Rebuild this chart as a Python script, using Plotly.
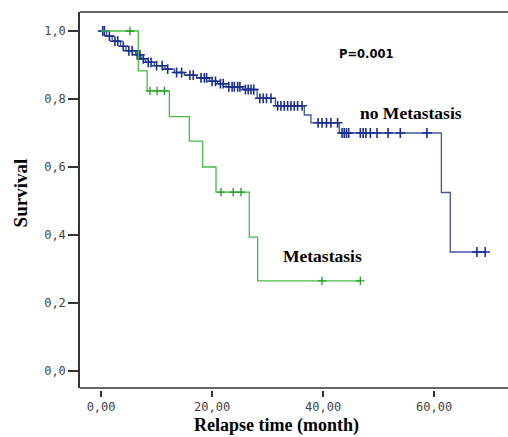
import numpy as np
import plotly.graph_objects as go

# ---------------- data ----------------
# no Metastasis: step times and survival after each step
nomet_t = [0, 1.0, 2.0, 3.5, 4.5, 6.2, 7.2, 8.0, 9.6, 11.5, 13.2, 15.0, 17.2, 19.5,
           21.0, 22.5, 25.5, 28.1, 31.4, 36.6, 37.8, 42.9, 61.3, 62.9, 69.2]
nomet_s = [1.0, 0.985, 0.970, 0.955, 0.942, 0.930, 0.918, 0.908, 0.898, 0.888, 0.878,
           0.870, 0.862, 0.852, 0.845, 0.836, 0.828, 0.802, 0.780, 0.753, 0.730, 0.700,
           0.525, 0.350, 0.350]
nomet_cens = [0.3, 0.6, 1.5, 2.5, 3.0, 4.0, 5.0, 5.6, 6.5, 7.0, 7.6, 8.5, 9.0, 10.0, 11.0,
              12.0, 13.6, 14.5, 16.0, 16.6, 18.0, 18.6, 19.0, 20.0, 20.6, 21.5, 22.0,
              23.0, 23.6, 24.0, 24.6, 25.0, 26.0, 26.5, 27.0, 27.5, 28.6, 29.2, 29.8,
              30.6, 31.8, 32.4, 33.0, 33.6, 34.2, 34.8, 35.4, 36.2, 39.1, 39.8, 40.6,
              41.4, 42.6, 43.4, 43.8, 44.2, 44.6, 46.7, 47.2, 47.7, 48.5, 49.7, 51.7,
              53.9, 58.7, 67.7, 69.2]

# Metastasis
met_t = [0, 6.7, 8.3, 12.3, 15.9, 18.3, 20.7, 26.7, 28.2, 46.7]
met_s = [1.0, 0.883, 0.824, 0.748, 0.676, 0.600, 0.526, 0.394, 0.265, 0.265]
met_cens = [5.2, 8.8, 10.1, 11.4, 21.6, 23.8, 25.2, 39.8, 46.7]

x_ticks = [0, 20, 40, 60]
x_tick_labels = ["0,00", "20,00", "40,00", "60,00"]
y_ticks = [0, 0.2, 0.4, 0.6, 0.8, 1.0]
y_tick_labels = ["0,0", "0,2", "0,4", "0,6", "0,8", "1,0"]


def surv_at(times, levels, q):
    t = np.asarray(times)
    s = np.asarray(levels)
    idx = np.searchsorted(t, np.asarray(q), side="right") - 1
    return s[idx]


BLUE_LINE = "#3d55a0"
BLUE_MARK = "#1b2f8f"
GREEN_LINE = "#46bb46"
GREEN_MARK = "#27a027"

fig = go.Figure()
fig.add_trace(go.Scatter(x=nomet_t, y=nomet_s, mode="lines", line_shape="hv",
                         line=dict(color=BLUE_LINE, width=1.3), showlegend=False,
                         hoverinfo="skip"))
fig.add_trace(go.Scatter(x=nomet_cens, y=surv_at(nomet_t, nomet_s, nomet_cens),
                         mode="markers",
                         marker=dict(symbol="cross-thin", size=7,
                                     line=dict(color=BLUE_MARK, width=1.6)),
                         showlegend=False))
fig.add_trace(go.Scatter(x=met_t, y=met_s, mode="lines", line_shape="hv",
                         line=dict(color=GREEN_LINE, width=1.3), showlegend=False,
                         hoverinfo="skip"))
fig.add_trace(go.Scatter(x=met_cens, y=surv_at(met_t, met_s, met_cens),
                         mode="markers",
                         marker=dict(symbol="cross-thin", size=6,
                                     line=dict(color=GREEN_MARK, width=1.4)),
                         showlegend=False))

tick_font = dict(family="DejaVu Sans Mono", size=12, color="#444444")
serif_bold = "Liberation Serif"

fig.update_layout(
    width=508, height=437,
    margin=dict(l=80, r=0, t=12, b=47, autoexpand=False),
    paper_bgcolor="white", plot_bgcolor="white",
    xaxis=dict(range=[-3.8, 73.3], tickvals=x_ticks, ticktext=x_tick_labels,
               showgrid=False, zeroline=False, showline=False,
               ticks="outside", ticklen=6, tickwidth=1.5, tickcolor="#333333",
               tickfont=tick_font, anchor="free", position=0, automargin=False),
    yaxis=dict(range=[-0.05, 1.0559], domain=[0.0053, 1], tickvals=y_ticks,
               ticktext=y_tick_labels, showgrid=False, zeroline=False,
               showline=True, linecolor="#333333", linewidth=1.5,
               ticks="outside", ticklen=10, tickwidth=1.5, tickcolor="#333333",
               tickfont=tick_font, automargin=False),
    shapes=[
        dict(type="line", xref="x domain", yref="y domain", x0=0, x1=1, y0=0, y1=0,
             line=dict(color="#333333", width=1.5)),
        dict(type="line", xref="x domain", yref="y domain", x0=0, x1=1, y0=1, y1=1,
             line=dict(color="#333333", width=1.5)),
    ],
    annotations=[
        dict(text="<b>Survival</b>", xref="paper", yref="paper", x=-60 / 428,
             y=0.52, textangle=-90, showarrow=False,
             font=dict(family=serif_bold, size=19, color="black"),
             xanchor="center", yanchor="middle"),
        dict(text="<b>Relapse time (month)</b>", xref="paper", yref="paper",
             x=(276 - 80) / 428, y=-(425 - 390) / 378, showarrow=False,
             font=dict(family=serif_bold, size=18, color="black"),
             xanchor="center", yanchor="middle"),
        dict(text="<b>P=0.001</b>", xref="x", yref="y", x=(365.5 - 101) / 5.55,
             y=(371 - 54) / 340, showarrow=False,
             font=dict(family="DejaVu Sans", size=11.5, color="black"),
             xanchor="center", yanchor="middle"),
        dict(text="<b>no Metastasis</b>", xref="x", yref="y", x=(411 - 101) / 5.55,
             y=(371 - 113) / 340, showarrow=False,
             font=dict(family=serif_bold, size=17.5, color="black"),
             xanchor="center", yanchor="middle"),
        dict(text="<b>Metastasis</b>", xref="x", yref="y", x=(322 - 101) / 5.55,
             y=(371 - 256) / 340, showarrow=False,
             font=dict(family=serif_bold, size=17.5, color="black"),
             xanchor="center", yanchor="middle"),
    ],
)

fig.write_html("out.html",
               config={"displayModeBar": False},
               post_script="document.body.style.margin='0';"
                           "document.body.style.overflow='hidden';")
